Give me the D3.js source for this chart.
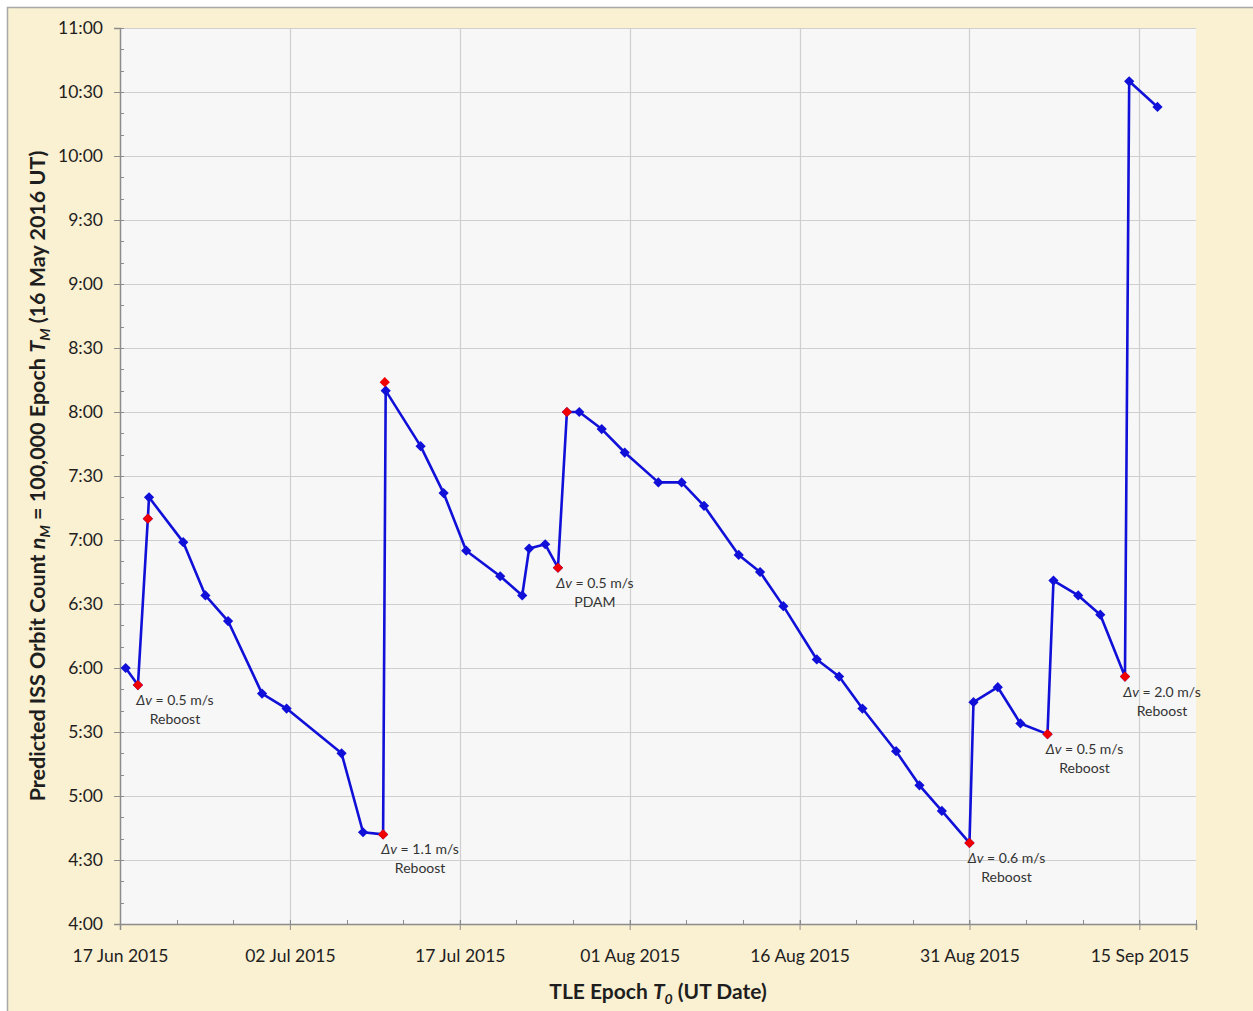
<!DOCTYPE html>
<html>
<head>
<meta charset="utf-8">
<script src="https://cdn.jsdelivr.net/npm/d3@7"></script>
<style>
  body { margin: 0; background: #fff; }
  svg { display: block; font-family: Lato, "Open Sans", sans-serif; }
</style>
</head>
<body>
<div id="vis"></div>
<script>
// TLE epochs (UT) and predicted time of orbit 100,000 on 16 May 2016
const epochs = ["2015-06-17T12:00", "2015-06-18T14:00", "2015-06-19T11:00", "2015-06-19T13:30", "2015-06-22T14:00",
  "2015-06-24T13:00", "2015-06-26T13:00", "2015-06-29T13:00", "2015-07-01T17:00", "2015-07-06T13:30",
  "2015-07-08T11:00", "2015-07-10T05:30", "2015-07-10T11:00", "2015-07-13T13:00", "2015-07-15T13:40",
  "2015-07-17T13:40", "2015-07-20T13:40", "2015-07-22T12:15", "2015-07-23T03:00", "2015-07-24T13:00",
  "2015-07-25T16:00", "2015-07-26T11:00", "2015-07-27T13:10", "2015-07-29T12:45", "2015-07-31T13:30",
  "2015-08-03T12:45", "2015-08-05T14:10", "2015-08-07T13:30", "2015-08-10T15:00", "2015-08-12T12:15",
  "2015-08-14T13:40", "2015-08-17T12:30", "2015-08-19T11:45", "2015-08-21T13:10", "2015-08-24T12:30",
  "2015-08-26T14:00", "2015-08-28T13:30", "2015-08-31T00:00", "2015-08-31T08:30", "2015-09-02T12:00",
  "2015-09-04T12:00", "2015-09-06T21:20", "2015-09-07T10:00", "2015-09-09T14:25", "2015-09-11T13:10",
  "2015-09-13T17:30", "2015-09-14T02:25", "2015-09-16T14:25"];
const predicted = ["6:00", "5:52", "7:10", "7:20", "6:59", "6:34", "6:22", "5:48", "5:41", "5:20",
  "4:43", "4:42", "8:10", "7:44", "7:22", "6:55", "6:43", "6:34", "6:56", "6:58",
  "6:47", "8:00", "8:00", "7:52", "7:41", "7:27", "7:27", "7:16", "6:53", "6:45",
  "6:29", "6:04", "5:56", "5:41", "5:21", "5:05", "4:53", "4:38", "5:44", "5:51",
  "5:34", "5:29", "6:41", "6:34", "6:25", "5:56", "10:35", "10:23"];

// red markers (manoeuvre points)
const burnEpochs = ["2015-06-18T14:00", "2015-06-19T11:00", "2015-07-10T05:30", "2015-07-10T09:00", "2015-07-25T16:00",
  "2015-07-26T11:00", "2015-08-31T00:00", "2015-09-06T21:20", "2015-09-13T17:30"];
const burnPredicted = ["5:52", "7:10", "4:42", "8:14", "6:47", "8:00", "4:38", "5:29", "5:56"];

// annotations
const noteEpochs = ["2015-06-18T14:00", "2015-07-10T05:30", "2015-07-25T16:00", "2015-08-31T00:00", "2015-09-06T21:20", "2015-09-13T17:30"];
const notePredicted = ["5:52", "4:42", "6:47", "4:38", "5:29", "5:56"];
const noteDv = ["0.5", "1.1", "0.5", "0.6", "0.5", "2.0"];
const noteKind = ["Reboost", "Reboost", "PDAM", "Reboost", "Reboost", "Reboost"];

const xStart = "2015-06-17T00:00", xEnd = "2015-09-20T00:00";
const yMin = "4:00", yMax = "11:00";

const W = 1253, H = 1011;
const margin = { top: 28, right: 57, bottom: 87, left: 120 };
const width = W - margin.left - margin.right;
const height = H - margin.top - margin.bottom;

const parseT = d3.utcParse("%Y-%m-%dT%H:%M");
const toMin = s => { const [h, m] = s.split(":").map(Number); return h * 60 + m; };
const fmtMin = m => `${Math.floor(m / 60)}:${String(m % 60).padStart(2, "0")}`;

const line = epochs.map((e, i) => ({ t: parseT(e), v: toMin(predicted[i]) }));
const burns = burnEpochs.map((e, i) => ({ t: parseT(e), v: toMin(burnPredicted[i]) }));
const notes = noteEpochs.map((e, i) => ({ t: parseT(e), v: toMin(notePredicted[i]), dv: noteDv[i], kind: noteKind[i] }));

const x = d3.scaleUtc().domain([parseT(xStart), parseT(xEnd)]).range([0, width]);
const y = d3.scaleLinear().domain([toMin(yMin), toMin(yMax)]).range([height, 0]);

const svg = d3.select("#vis").append("svg").attr("width", W).attr("height", H);

// cream frame
svg.append("rect")
  .attr("x", 7.5).attr("y", 7.5).attr("width", W + 10).attr("height", H + 10)
  .attr("fill", "#faf0d2").attr("stroke", "#a8a8a8").attr("stroke-width", 1.5);

const g = svg.append("g").attr("transform", `translate(${margin.left},${margin.top})`);

g.append("rect").attr("width", width).attr("height", height).attr("fill", "#f7f7f7");

const t0 = parseT(xStart);
const majorX = d3.range(0, 91, 15).map(d => d3.utcDay.offset(t0, d));
const minorX = d3.range(0, 96, 5).map(d => d3.utcDay.offset(t0, d));
const majorY = d3.range(toMin(yMin), toMin(yMax) + 1, 30);
const minorY = d3.range(toMin(yMin), toMin(yMax) + 1, 10);

// grid
g.append("g").selectAll("line").data(majorY.slice(1)).join("line")
  .attr("x1", 0).attr("x2", width).attr("y1", d => Math.round(y(d)) + 0.5).attr("y2", d => Math.round(y(d)) + 0.5)
  .attr("stroke", "#cfcfcf").attr("stroke-width", 1.2);
g.append("g").selectAll("line").data(majorX.slice(1)).join("line")
  .attr("y1", 0).attr("y2", height).attr("x1", d => Math.round(x(d)) + 0.5).attr("x2", d => Math.round(x(d)) + 0.5)
  .attr("stroke", "#cfcfcf").attr("stroke-width", 1.2);

// minor ticks (inside)
g.append("g").selectAll("line").data(minorX).join("line")
  .attr("x1", d => Math.round(x(d)) + 0.5).attr("x2", d => Math.round(x(d)) + 0.5)
  .attr("y1", height - 4).attr("y2", height).attr("stroke", "#8c8c8c");
g.append("g").selectAll("line").data(minorY).join("line")
  .attr("y1", d => Math.round(y(d)) + 0.5).attr("y2", d => Math.round(y(d)) + 0.5)
  .attr("x1", 0).attr("x2", 4).attr("stroke", "#8c8c8c");

// axes
const xAxis = g.append("g").attr("transform", `translate(0,${height})`)
  .call(d3.axisBottom(x).tickValues(majorX).tickFormat(d3.utcFormat("%d %b %Y")).tickSize(6).tickPadding(20));
const yAxis = g.append("g")
  .call(d3.axisLeft(y).tickValues(majorY).tickFormat(fmtMin).tickSize(6).tickPadding(11));
[xAxis, yAxis].forEach(a => {
  a.select(".domain").attr("stroke", "#8c8c8c").attr("stroke-width", 1.5);
  a.selectAll(".tick line").attr("stroke", "#8c8c8c");
  a.selectAll(".tick text").attr("font-size", 17.5).attr("fill", "#1e1e1e").attr("font-family", "Lato, sans-serif");
});
xAxis.selectAll(".tick line").attr("y1", -4);

// series
g.append("path").datum(line)
  .attr("fill", "none").attr("stroke", "#1010d8").attr("stroke-width", 2.6).attr("stroke-linejoin", "round")
  .attr("d", d3.line().x(d => x(d.t)).y(d => y(d.v)));

const diamond = d3.symbol().type(d3.symbolSquare).size(52);
g.append("g").selectAll("path").data(line).join("path")
  .attr("d", diamond).attr("fill", "#1010d8")
  .attr("transform", d => `translate(${x(d.t)},${y(d.v)}) rotate(45)`);
g.append("g").selectAll("path").data(burns).join("path")
  .attr("d", diamond).attr("fill", "#f00000")
  .attr("transform", d => `translate(${x(d.t)},${y(d.v)}) rotate(45)`);

// annotations
const ann = g.append("g").attr("font-size", 14).attr("fill", "#333").attr("text-anchor", "middle");
notes.forEach(n => {
  const t1 = ann.append("text").attr("x", x(n.t) + 37).attr("y", y(n.v) + 20);
  t1.append("tspan").attr("font-style", "italic").text("\u0394v");
  t1.append("tspan").text(` = ${n.dv} m/s`);
  ann.append("text").attr("x", x(n.t) + 37).attr("y", y(n.v) + 39).text(n.kind);
});

// axis titles
const xt = svg.append("text").attr("x", margin.left + 538).attr("y", 999)
  .attr("text-anchor", "middle").attr("font-size", 21).attr("font-weight", "bold").attr("fill", "#1e1e1e");
xt.append("tspan").text("TLE Epoch ");
xt.append("tspan").attr("font-style", "italic").text("T");
xt.append("tspan").attr("font-style", "italic").attr("font-size", 14).attr("dy", 5).text("0");
xt.append("tspan").attr("dy", -5).text(" (UT Date)");

const yt = svg.append("text").attr("transform", `translate(45,${margin.top + height / 2}) rotate(-90)`)
  .attr("text-anchor", "middle").attr("font-size", 21.5).attr("font-weight", "bold").attr("fill", "#1e1e1e");
yt.append("tspan").text("Predicted ISS Orbit Count ");
yt.append("tspan").attr("font-style", "italic").text("n");
yt.append("tspan").attr("font-style", "italic").attr("font-size", 14).attr("dy", 5).text("M");
yt.append("tspan").attr("dy", -5).text(" = 100,000 Epoch ");
yt.append("tspan").attr("font-style", "italic").text("T");
yt.append("tspan").attr("font-style", "italic").attr("font-size", 14).attr("dy", 5).text("M");
yt.append("tspan").attr("dy", -5).text(" (16 May 2016 UT)");
</script>
</body>
</html>
